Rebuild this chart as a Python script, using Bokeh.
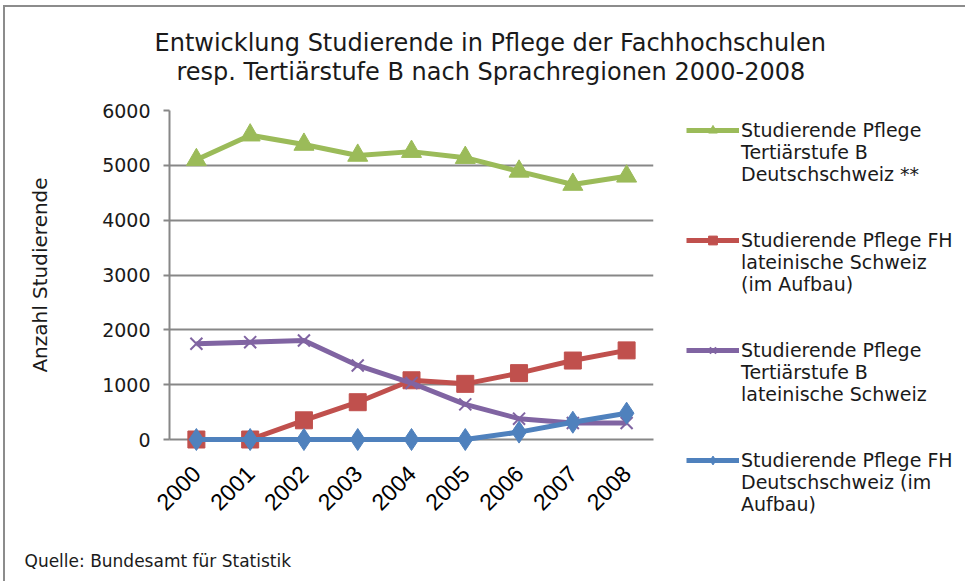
import math
from bokeh.plotting import figure
from bokeh.models import (ColumnDataSource, Range1d, FactorRange, Legend, LegendItem, Title)
from bokeh.embed import file_html
from bokeh.resources import INLINE

# ---------------- data ----------------
years = ["2000", "2001", "2002", "2003", "2004", "2005", "2006", "2007", "2008"]
tertiaer_deutsch = [5100, 5550, 5380, 5180, 5250, 5140, 4890, 4650, 4800]
fh_latein = [0, 0, 350, 680, 1080, 1015, 1210, 1440, 1625]
tertiaer_latein = [1745, 1775, 1805, 1350, 1030, 640, 380, 300, 300]
fh_deutsch = [0, 0, 0, 0, 0, 0, 135, 315, 480]
y_ticks = [0, 1000, 2000, 3000, 4000, 5000, 6000]

series_labels = [
    ["Studierende Pflege", "Tertiärstufe B", "Deutschschweiz **"],
    ["Studierende Pflege FH", "lateinische Schweiz", "(im Aufbau)"],
    ["Studierende Pflege", "Tertiärstufe B", "lateinische Schweiz"],
    ["Studierende Pflege FH", "Deutschschweiz (im", "Aufbau)"],
]
title_lines = ["Entwicklung Studierende in Pflege der Fachhochschulen",
               "resp. Tertiärstufe B nach Sprachregionen 2000-2008"]
y_label = "Anzahl Studierende"
source_note = "Quelle: Bundesamt  für Statistik"

colors = ["#9BBB59", "#C0504D", "#8064A2", "#4F81BD"]
markers = ["triangle", "square", "x", "diamond"]
marker_sizes = [20, 17, 17, 22]

src = ColumnDataSource(dict(year=years, s0=tertiaer_deutsch, s1=fh_latein,
                            s2=tertiaer_latein, s3=fh_deutsch))

FONT = "DejaVu Sans"
GRAY = "#878787"
TXT = "#1a1a1a"

p = figure(frame_width=484, frame_height=329,
           x_range=FactorRange(*years), y_range=Range1d(0, 6000),
           output_backend="svg", toolbar_location=None,
           min_border_left=164, min_border_right=312, min_border_top=103, min_border_bottom=142)
p.outline_line_color = None
p.background_fill_color = "white"
p.border_fill_color = "white"
p.styles = {"margin-left": "3px", "margin-top": "5px",
            "border-top": "2px solid #8c8c8c", "border-left": "2px solid #8c8c8c"}

# grid
p.xgrid.visible = False
p.ygrid.grid_line_color = GRAY
p.ygrid.grid_line_width = 2
p.ygrid.ticker = y_ticks

# y axis
p.yaxis.ticker = y_ticks
p.yaxis.axis_line_color = GRAY
p.yaxis.axis_line_width = 2
p.yaxis.major_tick_line_color = GRAY
p.yaxis.major_tick_line_width = 2
p.yaxis.major_tick_out = 6
p.yaxis.major_tick_in = 0
p.yaxis.minor_tick_line_color = None
p.yaxis.major_label_text_font = FONT
p.yaxis.major_label_text_font_size = "19px"
p.yaxis.major_label_text_color = TXT
p.yaxis.major_label_standoff = 13
p.yaxis.axis_label = y_label
p.yaxis.axis_label_text_font = FONT
p.yaxis.axis_label_text_font_size = "20px"
p.yaxis.axis_label_text_font_style = "normal"
p.yaxis.axis_label_text_color = TXT
p.yaxis.axis_label_standoff = 47

# x axis
p.xaxis.axis_line_color = GRAY
p.xaxis.axis_line_width = 2
p.xaxis.major_tick_line_color = None
p.xaxis.minor_tick_line_color = None
p.xaxis.major_label_orientation = math.pi / 4
p.xaxis.major_label_text_font = "Liberation Sans"
p.xaxis.major_label_text_font_size = "23px"
p.xaxis.major_label_text_color = "black"
p.xaxis.major_label_standoff = 24

# series
renderers = []
for i in range(4):
    col = f"s{i}"
    lr = p.line("year", col, source=src, line_color=colors[i], line_width=5, level="overlay")
    if markers[i] == "x":
        sr = p.scatter("year", col, source=src, marker="x", size=marker_sizes[i],
                       line_color=colors[i], line_width=2, level="overlay")
    else:
        sr = p.scatter("year", col, source=src, marker=markers[i], size=marker_sizes[i],
                       fill_color=colors[i], line_color=colors[i], level="overlay")
    renderers.append((lr, sr))

# legend: three text rows per series, two blank rows between series
items = []
for i in range(4):
    lr, sr = renderers[i]
    items.append(LegendItem(label=series_labels[i][0], renderers=[lr, sr]))
    for extra in series_labels[i][1:]:
        items.append(LegendItem(label=extra, renderers=[]))
    if i < 3:
        items.append(LegendItem(label=" ", renderers=[]))
        items.append(LegendItem(label=" ", renderers=[]))
leg = Legend(items=items, location=(33, -76), orientation="vertical",
             border_line_color=None, background_fill_alpha=0,
             padding=0, margin=0, spacing=0,
             label_height=22, glyph_height=22, glyph_width=53, label_standoff=2,
             label_text_font=FONT, label_text_font_size="19px",
             label_text_color=TXT)
p.add_layout(leg, "right")

# title: two lines, each centred on the whole chart
# (second line is nearer the plot; a blank row below it keeps it close to the first line)
t2 = Title(text=title_lines[1] + "\n ", align="left", offset=7, standoff=0,
           text_font=FONT, text_font_size="24px", text_font_style="normal",
           text_color=TXT, text_line_height=0.86)
t1 = Title(text=title_lines[0], align="left", offset=-15, standoff=0,
           text_font=FONT, text_font_size="24px", text_font_style="normal",
           text_color=TXT)
p.add_layout(t2, "above")
p.add_layout(t1, "above")

# source note below the chart
note = Title(text="\n" + source_note, align="left", offset=-145, standoff=9,
             text_font=FONT, text_font_size="17px", text_font_style="normal",
             text_color=TXT, text_line_height=1.2)
p.add_layout(note, "below")

open("out.html", "w").write(file_html(p, INLINE))
